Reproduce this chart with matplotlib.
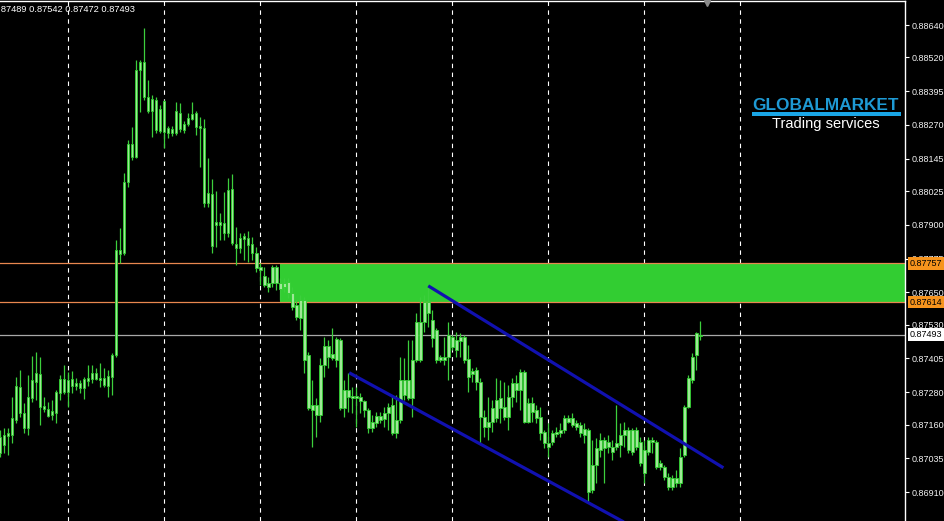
import numpy as np
import matplotlib
matplotlib.use("Agg")
import matplotlib.pyplot as plt
from matplotlib.patches import Rectangle
from matplotlib.transforms import blended_transform_factory

plt.rcParams['font.family'] = ['Liberation Sans', 'DejaVu Sans']

# candles (one bar every 4 px)
opens = [0.87055, 0.87085, 0.87118, 0.87122, 0.87178, 0.87300, 0.87203, 0.87148, 0.87259, 0.87318,
         0.87348, 0.87229, 0.87218, 0.87196, 0.87203, 0.87278, 0.87329, 0.87281, 0.87329, 0.87303,
         0.87315, 0.87296, 0.87322, 0.87329, 0.87352, 0.87333, 0.87333, 0.87303, 0.87337, 0.87418,
         0.87792, 0.87796, 0.88059, 0.88200, 0.88152, 0.88474, 0.88503, 0.88374, 0.88322, 0.88363,
         0.88248, 0.88359, 0.88259, 0.88240, 0.88240, 0.88314, 0.88252, 0.88274, 0.88292, 0.88314,
         0.88266, 0.88259, 0.87981, 0.88015, 0.87900, 0.87911, 0.87907, 0.87870, 0.88033, 0.87829,
         0.87814, 0.87859, 0.87852, 0.87829, 0.87796, 0.87744, 0.87711, 0.87685, 0.87685, 0.87744,
         0.87685, 0.87670, 0.87689, 0.87648, 0.87603, 0.87555, 0.87622, 0.87418, 0.87233, 0.87233,
         0.87196, 0.87381, 0.87452, 0.87407, 0.87400, 0.87474, 0.87222, 0.87289, 0.87266, 0.87259,
         0.87263, 0.87248, 0.87215, 0.87148, 0.87166, 0.87192, 0.87181, 0.87203, 0.87233, 0.87129,
         0.87178, 0.87326, 0.87259, 0.87259, 0.87400, 0.87400, 0.87540, 0.87615, 0.87548, 0.87511,
         0.87411, 0.87400, 0.87411, 0.87485, 0.87437, 0.87470, 0.87485, 0.87403, 0.87348, 0.87363,
         0.87318, 0.87189, 0.87152, 0.87170, 0.87185, 0.87259, 0.87226, 0.87189, 0.87263, 0.87315,
         0.87289, 0.87355, 0.87170, 0.87240, 0.87215, 0.87189, 0.87133, 0.87092, 0.87096, 0.87126,
         0.87129, 0.87141, 0.87185, 0.87185, 0.87166, 0.87159, 0.87144, 0.87141, 0.86918, 0.87011,
         0.87066, 0.87104, 0.87078, 0.87078, 0.87078, 0.87085, 0.87122, 0.87141, 0.87059, 0.87141,
         0.87096, 0.87066, 0.87059, 0.87104, 0.87096, 0.87003, 0.87003, 0.86966, 0.86929, 0.86963,
         0.86944, 0.87048, 0.87226, 0.87326, 0.87418, 0.87489]
highs = [0.87141, 0.87148, 0.87148, 0.87263, 0.87337, 0.87363, 0.87240, 0.87344, 0.87415, 0.87429,
         0.87411, 0.87263, 0.87244, 0.87252, 0.87289, 0.87344, 0.87381, 0.87355, 0.87359, 0.87333,
         0.87326, 0.87337, 0.87381, 0.87381, 0.87370, 0.87389, 0.87370, 0.87363, 0.87426, 0.87844,
         0.87889, 0.88092, 0.88215, 0.88263, 0.88511, 0.88511, 0.88629, 0.88437, 0.88381, 0.88374,
         0.88344, 0.88363, 0.88266, 0.88266, 0.88355, 0.88352, 0.88285, 0.88314, 0.88355, 0.88322,
         0.88300, 0.88292, 0.88148, 0.88070, 0.88026, 0.87944, 0.88022, 0.88074, 0.88089, 0.87892,
         0.87870, 0.87870, 0.87877, 0.87855, 0.87818, 0.87759, 0.87744, 0.87707, 0.87752, 0.87752,
         0.87704, 0.87704, 0.87704, 0.87670, 0.87622, 0.87640, 0.87633, 0.87429, 0.87326, 0.87259,
         0.87407, 0.87485, 0.87474, 0.87518, 0.87485, 0.87481, 0.87326, 0.87352, 0.87300, 0.87300,
         0.87278, 0.87252, 0.87222, 0.87196, 0.87207, 0.87207, 0.87226, 0.87240, 0.87270, 0.87270,
         0.87411, 0.87407, 0.87474, 0.87474, 0.87574, 0.87633, 0.87640, 0.87670, 0.87585, 0.87518,
         0.87418, 0.87485, 0.87540, 0.87492, 0.87503, 0.87500, 0.87492, 0.87455, 0.87370, 0.87374,
         0.87333, 0.87215, 0.87263, 0.87252, 0.87333, 0.87326, 0.87318, 0.87307, 0.87333, 0.87344,
         0.87366, 0.87363, 0.87259, 0.87263, 0.87233, 0.87226, 0.87141, 0.87166, 0.87141, 0.87152,
         0.87166, 0.87196, 0.87196, 0.87203, 0.87178, 0.87170, 0.87166, 0.87148, 0.87104, 0.87111,
         0.87129, 0.87115, 0.87122, 0.87104, 0.87233, 0.87166, 0.87170, 0.87152, 0.87148, 0.87152,
         0.87115, 0.87104, 0.87115, 0.87115, 0.87104, 0.87029, 0.87011, 0.86981, 0.86974, 0.86992,
         0.87074, 0.87233, 0.87344, 0.87426, 0.87503, 0.87542]
lows = [0.87040, 0.87055, 0.87048, 0.87092, 0.87166, 0.87189, 0.87129, 0.87122, 0.87244, 0.87252,
        0.87159, 0.87207, 0.87189, 0.87178, 0.87166, 0.87252, 0.87274, 0.87226, 0.87278, 0.87289,
        0.87278, 0.87255, 0.87303, 0.87315, 0.87326, 0.87300, 0.87300, 0.87263, 0.87270, 0.87411,
        0.87759, 0.87789, 0.88040, 0.88140, 0.88148, 0.88318, 0.88363, 0.88314, 0.88226, 0.88240,
        0.88240, 0.88185, 0.88222, 0.88229, 0.88233, 0.88244, 0.88240, 0.88266, 0.88289, 0.88233,
        0.88115, 0.87966, 0.87966, 0.87796, 0.87818, 0.87844, 0.87844, 0.87855, 0.87826, 0.87752,
        0.87796, 0.87770, 0.87763, 0.87770, 0.87726, 0.87678, 0.87670, 0.87652, 0.87670, 0.87659,
        0.87622, 0.87652, 0.87629, 0.87585, 0.87548, 0.87511, 0.87352, 0.87215, 0.87078, 0.87115,
        0.87170, 0.87337, 0.87370, 0.87400, 0.87374, 0.87215, 0.87189, 0.87207, 0.87203, 0.87152,
        0.87203, 0.87189, 0.87129, 0.87133, 0.87152, 0.87166, 0.87152, 0.87141, 0.87122, 0.87111,
        0.87166, 0.87252, 0.87252, 0.87189, 0.87392, 0.87392, 0.87503, 0.87522, 0.87448, 0.87389,
        0.87392, 0.87381, 0.87326, 0.87437, 0.87411, 0.87411, 0.87389, 0.87281, 0.87318, 0.87289,
        0.87092, 0.87115, 0.87104, 0.87133, 0.87170, 0.87166, 0.87178, 0.87141, 0.87226, 0.87244,
        0.87215, 0.87166, 0.87166, 0.87170, 0.87166, 0.87104, 0.87074, 0.87040, 0.87085, 0.87115,
        0.87115, 0.87129, 0.87166, 0.87152, 0.87141, 0.87115, 0.87092, 0.86874, 0.86907, 0.86944,
        0.87040, 0.86944, 0.87055, 0.87029, 0.87066, 0.87040, 0.87078, 0.87055, 0.87048, 0.87066,
        0.87007, 0.86944, 0.87048, 0.87055, 0.86996, 0.86992, 0.86955, 0.86918, 0.86918, 0.86929,
        0.86929, 0.87040, 0.87222, 0.87315, 0.87363, 0.87472]
closes = [0.87115, 0.87122, 0.87129, 0.87185, 0.87303, 0.87203, 0.87148, 0.87263, 0.87326, 0.87352,
          0.87226, 0.87218, 0.87192, 0.87211, 0.87281, 0.87329, 0.87281, 0.87326, 0.87303, 0.87315,
          0.87296, 0.87329, 0.87333, 0.87352, 0.87329, 0.87326, 0.87307, 0.87340, 0.87418, 0.87807,
          0.87807, 0.88059, 0.88200, 0.88152, 0.88474, 0.88503, 0.88374, 0.88322, 0.88366, 0.88252,
          0.88329, 0.88244, 0.88240, 0.88255, 0.88322, 0.88255, 0.88274, 0.88296, 0.88311, 0.88263,
          0.88259, 0.87981, 0.88018, 0.87822, 0.87911, 0.87900, 0.87870, 0.88029, 0.87833, 0.87814,
          0.87852, 0.87848, 0.87826, 0.87796, 0.87740, 0.87733, 0.87678, 0.87670, 0.87744, 0.87685,
          0.87663, 0.87685, 0.87648, 0.87596, 0.87559, 0.87622, 0.87400, 0.87222, 0.87215, 0.87196,
          0.87381, 0.87452, 0.87411, 0.87422, 0.87477, 0.87222, 0.87289, 0.87263, 0.87259, 0.87266,
          0.87248, 0.87215, 0.87148, 0.87170, 0.87192, 0.87178, 0.87203, 0.87226, 0.87129, 0.87178,
          0.87326, 0.87270, 0.87326, 0.87400, 0.87540, 0.87540, 0.87615, 0.87574, 0.87481, 0.87400,
          0.87400, 0.87411, 0.87492, 0.87448, 0.87474, 0.87485, 0.87400, 0.87337, 0.87359, 0.87318,
          0.87189, 0.87152, 0.87170, 0.87222, 0.87252, 0.87222, 0.87189, 0.87263, 0.87315, 0.87289,
          0.87355, 0.87170, 0.87240, 0.87207, 0.87185, 0.87129, 0.87092, 0.87078, 0.87129, 0.87133,
          0.87141, 0.87185, 0.87170, 0.87159, 0.87152, 0.87129, 0.87122, 0.86911, 0.87011, 0.87074,
          0.87104, 0.87074, 0.87096, 0.87059, 0.87092, 0.87122, 0.87141, 0.87066, 0.87141, 0.87078,
          0.87018, 0.86981, 0.87104, 0.87096, 0.87003, 0.87018, 0.86966, 0.86929, 0.86963, 0.86944,
          0.87040, 0.87226, 0.87333, 0.87411, 0.87500, 0.87493]

price_ticks = [0.88640, 0.88520, 0.88395, 0.88270, 0.88145, 0.88025, 0.87900, 0.87775,
               0.87650, 0.87530, 0.87405, 0.87280, 0.87160, 0.87035, 0.86910]
grid_bars = [17, 41, 65, 89, 113, 137, 161, 185]

# supply zone and its two levels
zone_start = 70
zone_top = 0.87757
zone_bottom = 0.87614

# descending channel (bar index, price)
upper_line = ([107.0, 180.75], [0.87674, 0.87000])
lower_line = ([87.25, 160.0], [0.87352, 0.86766])

price_min, price_max = 0.86803, 0.88729
n_visible = 226.25

fig = plt.figure(figsize=(9.45, 5.21), dpi=100, facecolor='black')
ax = fig.add_axes([0, 0, 905.5 / 945, 520 / 521], facecolor='black')

x = np.arange(len(closes))
o = np.array(opens)
c = np.array(closes)

#grid
for g in grid_bars:
    ax.axvline(g, color='white', lw=0.8, ls=(0, (4, 4)), zorder=1)

#zone + levels
ax.fill_between([zone_start, n_visible + 5], zone_bottom, zone_top, color='#32cd32', lw=0, zorder=2)
ax.axhline(zone_top, color='#e8874f', lw=0.9, zorder=2.5)
ax.axhline(zone_bottom, color='#e8874f', lw=0.9, zorder=2.5)
ax.axhline(closes[-1], color='#a8a8a8', lw=0.9, zorder=2.5)

#candles
ax.vlines(x, lows, highs, color='#3ccf3c', lw=0.9, zorder=3)
body_h = np.maximum(np.abs(c - o), 0.00003)
ax.bar(x, body_h, bottom=np.minimum(o, c), width=0.68, color='#9fe897',
       edgecolor='#2fcf2f', linewidth=0.6, zorder=4)

#channel
for xs, ys in (upper_line, lower_line):
    ax.plot(xs, ys, color='#1111b0', lw=2.3, solid_capstyle='butt', zorder=5)

ax.set_xlim(0, n_visible)
ax.set_ylim(price_min, price_max)
ax.set_xticks([])
ax.yaxis.tick_right()
ax.set_yticks(price_ticks)
ax.set_yticklabels([f'{t:.5f}' for t in price_ticks])
ax.tick_params(axis='y', length=3, width=0.8, color='white', labelcolor='#f2f2f2',
               labelsize=6.5, pad=1.5)
for s in ['left', 'bottom']:
    ax.spines[s].set_visible(False)
for s in ['top', 'right']:
    ax.spines[s].set_color('white')
    ax.spines[s].set_linewidth(1)

#price tags on the axis
trans = blended_transform_factory(ax.transAxes, ax.transData)
for lvl, fc in [(zone_top, '#f7941d'), (zone_bottom, '#f7941d'), (closes[-1], 'white')]:
    ax.text(1.0 + 4 / 905.5, lvl, f'{lvl:.5f}', transform=trans, ha='left', va='center',
            fontsize=6.5, color='black', clip_on=False, zorder=10,
            bbox=dict(boxstyle='square,pad=0.2', fc=fc, ec='none'))

# chart shift marker
ax.plot(176.75, price_max - 0.00008, marker='v', ms=5, color='#8a8a8a', clip_on=False, zorder=11)

# header with last bar OHLC
header = f'{opens[-1]:.5f} {highs[-1]:.5f} {lows[-1]:.5f} {closes[-1]:.5f}'
fig.text(135 / 945, 1 - 10 / 521, header, ha='right', va='center', color='white', fontsize=6.7)

# logo
fig.text(752 / 945, 1 - 106 / 521, 'GLOBALMARKET', fontweight='bold', fontsize=12.4,
         color='#1e9ad4', ha='left', va='center')
fig.add_artist(Rectangle((752 / 945, 1 - 116 / 521), 149 / 945, 4 / 521,
                         transform=fig.transFigure, color='#1aa6e6', lw=0))
fig.text(826 / 945, 1 - 124 / 521, 'Trading services', ha='center', va='center',
         fontsize=10.5, color='white')

fig.savefig('out.png', dpi=100, facecolor='black')
